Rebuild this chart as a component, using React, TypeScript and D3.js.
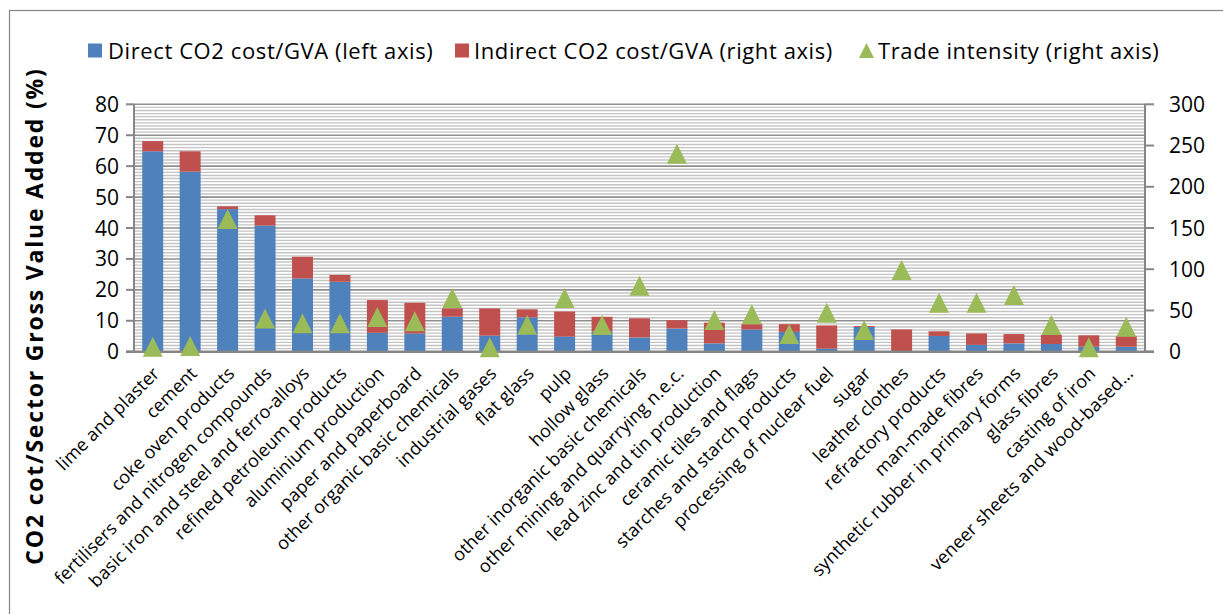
import React from "react";
import * as d3 from "d3";

const categories: string[] = [
  "lime and plaster",
  "cement",
  "coke oven products",
  "fertilisers and nitrogen compounds",
  "basic iron and steel and ferro-alloys",
  "refined petroleum products",
  "aluminium production",
  "paper and paperboard",
  "other organic basic chemicals",
  "industrial gases",
  "flat glass",
  "pulp",
  "hollow glass",
  "other inorganic basic chemicals",
  "other mining and quarrying n.e.c.",
  "lead zinc and tin production",
  "ceramic tiles and flags",
  "starches and starch products",
  "processing of nuclear fuel",
  "sugar",
  "leather clothes",
  "refractory products",
  "man-made fibres",
  "synthetic rubber in primary forms",
  "glass fibres",
  "casting of iron",
  "veneer sheets and wood-based…",
];

const directCost: number[] = [
  64.8, 58.2, 46.1, 40.8, 23.7, 22.6, 6.1, 5.9, 11.3, 5.2, 11.1, 4.9, 6.5, 4.6,
  7.5, 2.7, 7.2, 6.4, 1.0, 8.0, 0.0, 5.1, 2.2, 2.7, 2.5, 1.6, 1.6,
];

const indirectCost: number[] = [
  3.3, 6.6, 0.9, 3.3, 7.0, 2.2, 10.6, 9.9, 2.7, 8.8, 2.6, 8.1, 4.8, 6.2, 2.7,
  6.7, 1.7, 2.5, 7.5, 0.3, 7.2, 1.5, 3.7, 3.0, 2.9, 3.7, 3.4,
];

const tradeIntensity: number[] = [
  6, 7, 161, 40.4, 34.4, 34.4, 42, 37, 65, 5.3, 32.7, 65, 32.3, 80, 240, 38.4,
  45.5, 21.4, 47.3, 26.3, 99, 59.4, 59.4, 68.7, 32.3, 5.3, 30.3,
];

const leftTicks: number[] = [0, 10, 20, 30, 40, 50, 60, 70, 80];
const rightTicks: number[] = [0, 50, 100, 150, 200, 250, 300];

const legendLabels: string[] = [
  "Direct CO2 cost/GVA (left axis)",
  "Indirect CO2 cost/GVA (right axis)",
  "Trade intensity (right axis)",
];

const yTitle = "CO2 cot/Sector Gross Value Added (%)";

const BLUE = "#4F81BD";
const RED = "#C0504D";
const GREEN = "#9BBB59";
const FONT = "'Open Sans', 'Noto Sans', sans-serif";

export default function App() {
  const W = 1223;
  const H = 614;
  const plotL = 134;
  const plotR = 1145;
  const plotT = 104.3;
  const plotB = 351.7;

  const x = d3
    .scaleBand<string>()
    .domain(categories)
    .range([plotL, plotR])
    .paddingInner(0.44)
    .paddingOuter(0.22);
  const yL = d3.scaleLinear().domain([0, 80]).range([plotB, plotT]);
  const yR = d3.scaleLinear().domain([0, 300]).range([plotB, plotT]);

  const minorTicks = d3.range(0, 81, 1).filter((v) => v % 10 !== 0);

  const tri = (cx: number, cy: number, s: number) =>
    `M${cx},${cy - s} L${cx + s},${cy + s} L${cx - s},${cy + s} Z`;

  const legendItems = [
    { kind: "rect", color: BLUE, mx: 88, tx: 108 },
    { kind: "rect", color: RED, mx: 455, tx: 474 },
    { kind: "tri", color: GREEN, mx: 859, tx: 878 },
  ];

  return (
    <svg
      width={W}
      height={H}
      style={{ position: "absolute", left: 0, top: 0, background: "#fff" }}
      fontFamily={FONT}
    >
      <rect x={9.5} y={10.5} width={1240} height={640} fill="#fff" stroke="#868686" strokeWidth={1.2} />

      {/* minor gridlines */}
      {minorTicks.map((v) => (
        <line key={"mn" + v} x1={plotL} x2={plotR} y1={yL(v)} y2={yL(v)} stroke="#c4c4c4" strokeWidth={1.4} />
      ))}
      {leftTicks.map((v) => (
        <line key={"mj" + v} x1={plotL} x2={plotR} y1={yL(v)} y2={yL(v)} stroke="#8e8e8e" strokeWidth={1.6} />
      ))}

      {/* bars */}
      {categories.map((c, i) => {
        const bx = x(c)!;
        const bw = x.bandwidth();
        const d = directCost[i];
        const t = d + indirectCost[i];
        return (
          <g key={"b" + i}>
            <rect x={bx} y={yL(d)} width={bw} height={yL(0) - yL(d)} fill={BLUE} />
            <rect x={bx} y={yL(t)} width={bw} height={yL(d) - yL(t)} fill={RED} />
          </g>
        );
      })}

      {/* axes */}
      <line x1={plotL} x2={plotL} y1={plotT} y2={plotB} stroke="#868686" strokeWidth={2} />
      <line x1={plotR} x2={plotR} y1={plotT} y2={plotB} stroke="#868686" strokeWidth={2} />
      <line x1={plotL - 8} x2={plotR + 9} y1={plotB} y2={plotB} stroke="#868686" strokeWidth={2.5} />
      {leftTicks.map((v) => (
        <g key={"lt" + v}>
          <line x1={plotL - 8} x2={plotL} y1={yL(v)} y2={yL(v)} stroke="#868686" strokeWidth={2} />
          <text x={119} y={yL(v)} dy="0.36em" textAnchor="end" fontSize={21} fill="#000">
            {v}
          </text>
        </g>
      ))}
      {rightTicks.map((v) => (
        <g key={"rt" + v}>
          <line x1={plotR} x2={plotR + 9} y1={yR(v)} y2={yR(v)} stroke="#868686" strokeWidth={2} />
          <text x={1169} y={yR(v)} dy="0.36em" textAnchor="start" fontSize={21} fill="#000">
            {v}
          </text>
        </g>
      ))}

      {/* trade intensity markers */}
      {categories.map((c, i) => {
        const cx = x(c)! + x.bandwidth() / 2;
        const cy = yR(tradeIntensity[i]);
        return <path key={"t" + i} d={tri(cx, cy, 10)} fill={GREEN} />;
      })}

      {/* x labels */}
      {categories.map((c) => {
        const cx = x(c)! + x.bandwidth() / 2;
        return (
          <text
            key={"xl" + c}
            transform={`translate(${cx - 1},${plotB + 14}) rotate(-45)`}
            textAnchor="end"
            dy="0.7em"
            fontSize={18}
            letterSpacing={0.1}
            fill="#000"
          >
            {c}
          </text>
        );
      })}

      {/* y title */}
      <text
        transform={`translate(43,316) rotate(-90)`}
        textAnchor="middle"
        fontSize={23}
        fontWeight="bold"
        letterSpacing={1.8}
        fill="#000"
      >
        {yTitle}
      </text>

      {/* legend */}
      {legendItems.map((it, i) => (
        <g key={"lg" + i}>
          {it.kind === "rect" ? (
            <rect x={it.mx} y={43.5} width={14} height={14} fill={it.color} />
          ) : (
            <path d={`M${it.mx + 7.5},43 L${it.mx + 15},58 L${it.mx},58 Z`} fill={it.color} />
          )}
          <text x={it.tx} y={51} dy="0.36em" fontSize={22} letterSpacing={0.6} fill="#000">
            {legendLabels[i]}
          </text>
        </g>
      ))}
    </svg>
  );
}
